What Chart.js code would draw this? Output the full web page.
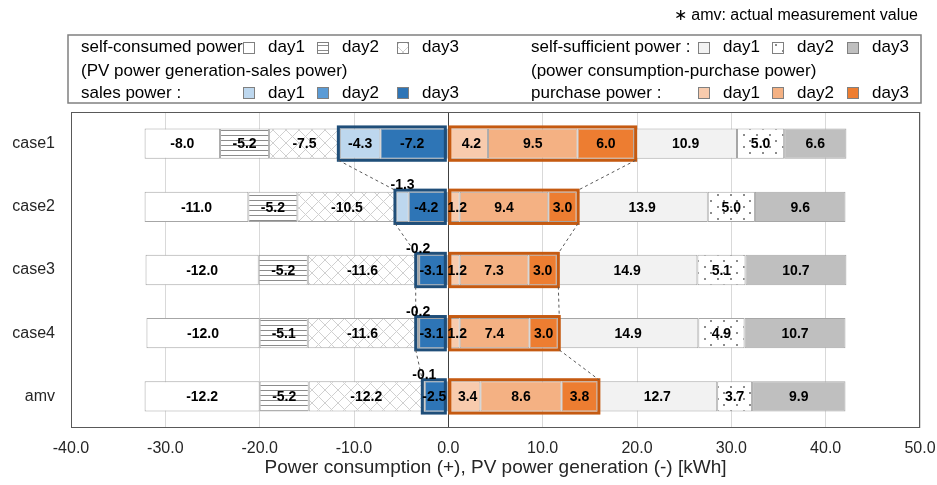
<!DOCTYPE html>
<html>
<head>
<meta charset="utf-8">
<script src="https://cdn.jsdelivr.net/npm/chart.js@4.4.1/dist/chart.umd.min.js"></script>
<style>
  html, body { margin: 0; padding: 0; background: #fff; }
</style>
</head>
<body>
<canvas id="energyChart" width="937" height="485"></canvas>
<script>
// categories
const cases = ['case1', 'case2', 'case3', 'case4', 'amv'];

// self-consumed power (PV power generation - sales power), negative side
const selfConsumedDay1 = [-8.0, -11.0, -12.0, -12.0, -12.2];
const selfConsumedDay2 = [-5.2, -5.2, -5.2, -5.1, -5.2];
const selfConsumedDay3 = [-7.5, -10.5, -11.6, -11.6, -12.2];

// sales power
const salesDay1 = [-4.3, -1.3, -0.2, -0.2, -0.1];
const salesDay2 = [0, 0, 0, 0, 0];
const salesDay3 = [-7.2, -4.2, -3.1, -3.1, -2.5];

// purchase power
const purchaseDay1 = [4.2, 1.2, 1.2, 1.2, 3.4];
const purchaseDay2 = [9.5, 9.4, 7.3, 7.4, 8.6];
const purchaseDay3 = [6.0, 3.0, 3.0, 3.0, 3.8];

// self-sufficient power (power consumption - purchase power)
const selfSufficientDay1 = [10.9, 13.9, 14.9, 14.9, 12.7];
const selfSufficientDay2 = [5.0, 5.0, 5.1, 4.9, 3.7];
const selfSufficientDay3 = [6.6, 9.6, 10.7, 10.7, 9.9];

// x axis
const xMin = -40;
const xMax = 50;
const xStep = 10;

const FONT = "'Liberation Sans', Arial, sans-serif";

// small canvas tiles used as fill patterns
function tile(w, h, paint) {
    const c = document.createElement('canvas');
    c.width = w;
    c.height = h;
    const g = c.getContext('2d');
    g.fillStyle = '#ffffff';
    g.fillRect(0, 0, w, h);
    paint(g);
    return g.createPattern(c, 'repeat');
}

const hLines = tile(4, 5, g => {
    g.fillStyle = '#8c8c8c';
    g.fillRect(0, 0, 4, 1);
});
const crossHatch = tile(13, 13, g => {
    g.strokeStyle = '#d0d0d0';
    g.lineWidth = 1;
    g.beginPath();
    g.moveTo(0, 0); g.lineTo(13, 13);
    g.moveTo(13, 0); g.lineTo(0, 13);
    g.stroke();
});
const dots = tile(13, 12, g => {
    g.fillStyle = '#8c8c8c';
    g.fillRect(2, 2, 2, 2);
    g.fillRect(8, 8, 2, 2);
});

const colors = {
    scDay1: '#ffffff', scDay2: hLines, scDay3: crossHatch,
    saDay1: '#bdd7ee', saDay2: '#5b9bd5', saDay3: '#2e75b6',
    ssDay1: '#f2f2f2', ssDay2: dots, ssDay3: '#bfbfbf',
    puDay1: '#f8cbad', puDay2: '#f4b183', puDay3: '#ed7d31'
};

function dataset(label, data, bg, labelAbove) {
    return {
        label: label,
        data: data,
        backgroundColor: bg,
        borderColor: '#a6a6a6',
        borderWidth: 1,
        borderSkipped: false,
        stack: 'all',
        labelAbove: !!labelAbove
    };
}

// first dataset of each sign sits next to zero
const datasets = [
    dataset('sales day3', salesDay3, colors.saDay3),
    dataset('sales day2', salesDay2, colors.saDay2),
    dataset('sales day1', salesDay1, colors.saDay1, true),
    dataset('self-consumed day3', selfConsumedDay3, colors.scDay3),
    dataset('self-consumed day2', selfConsumedDay2, colors.scDay2),
    dataset('self-consumed day1', selfConsumedDay1, colors.scDay1),
    dataset('purchase day1', purchaseDay1, colors.puDay1),
    dataset('purchase day2', purchaseDay2, colors.puDay2),
    dataset('purchase day3', purchaseDay3, colors.puDay3),
    dataset('self-sufficient day1', selfSufficientDay1, colors.ssDay1),
    dataset('self-sufficient day2', selfSufficientDay2, colors.ssDay2),
    dataset('self-sufficient day3', selfSufficientDay3, colors.ssDay3)
];

// frame, thick boxes round sales / purchase groups, dashed series lines
const groupBoxes = {
    id: 'groupBoxes',
    afterDatasetsDraw(chart) {
        const { ctx, chartArea, scales: { x } } = chart;
        const bars = chart.getDatasetMeta(0).data;
        const zero = x.getPixelForValue(0);
        const salesTot = cases.map((_, i) => salesDay1[i] + salesDay2[i] + salesDay3[i]);
        const purchTot = cases.map((_, i) => purchaseDay1[i] + purchaseDay2[i] + purchaseDay3[i]);

        ctx.save();
        ctx.strokeStyle = '#595959';
        ctx.lineWidth = 1;
        ctx.strokeRect(chartArea.left + 0.5, chartArea.top + 0.5,
            chartArea.right - chartArea.left - 1, chartArea.bottom - chartArea.top - 1);

        const rows = bars.map(b => ({ top: b.y - b.height / 2, bottom: b.y + b.height / 2 }));
        ctx.lineWidth = 3;
        rows.forEach((r, i) => {
            const sx = x.getPixelForValue(salesTot[i]) - 1.5;
            ctx.strokeStyle = '#1f4e79';
            ctx.strokeRect(sx, r.top - 1.5, (zero - 3) - sx, r.bottom - r.top + 3);
            const px = x.getPixelForValue(purchTot[i]) + 1.5;
            ctx.strokeStyle = '#c55a11';
            ctx.strokeRect(zero + 1.5, r.top - 1.5, px - (zero + 1.5), r.bottom - r.top + 3);
        });

        ctx.setLineDash([3, 3]);
        ctx.lineWidth = 1;
        ctx.strokeStyle = '#595959';
        for (let i = 0; i < rows.length - 1; i++) {
            ctx.beginPath();
            ctx.moveTo(x.getPixelForValue(salesTot[i]) - 1.5, rows[i].bottom + 1.5);
            ctx.lineTo(x.getPixelForValue(salesTot[i + 1]) - 1.5, rows[i + 1].top - 1.5);
            ctx.moveTo(x.getPixelForValue(purchTot[i]) + 1.5, rows[i].bottom + 1.5);
            ctx.lineTo(x.getPixelForValue(purchTot[i + 1]) + 1.5, rows[i + 1].top - 1.5);
            ctx.stroke();
        }
        ctx.restore();
    }
};

// value labels on the segments
const valueLabels = {
    id: 'valueLabels',
    afterDatasetsDraw(chart) {
        const ctx = chart.ctx;
        const zero = chart.scales.x.getPixelForValue(0);
        ctx.save();
        ctx.font = 'bold 14px ' + FONT;
        ctx.fillStyle = '#000000';
        ctx.textAlign = 'center';
        chart.data.datasets.forEach((ds, di) => {
            chart.getDatasetMeta(di).data.forEach((bar, i) => {
                const v = ds.data[i];
                if (!v) return;
                let cx = (bar.x + bar.base) / 2;
                if (ds.labelAbove && Math.abs(v) < 2) {
                    ctx.textBaseline = 'bottom';
                    ctx.fillText(v.toFixed(1), cx, bar.y - bar.height / 2 + 1);
                } else {
                    // keep the labels either side of zero apart
                    if (Math.abs(bar.base - zero) < 1) cx += v < 0 ? -2 : 3;
                    ctx.textBaseline = 'middle';
                    ctx.fillText(v.toFixed(1), cx, bar.y + 1);
                }
            });
        });
        ctx.restore();
    }
};

// legend box and the note at the top
const legendBox = {
    id: 'legendBox',
    afterDraw(chart) {
        const ctx = chart.ctx;
        ctx.save();
        ctx.fillStyle = '#000000';
        ctx.font = '16px ' + FONT;
        ctx.textAlign = 'right';
        ctx.textBaseline = 'middle';
        ctx.fillText('\u2217 amv: actual measurement value', 918, 16);

        ctx.strokeStyle = '#808080';
        ctx.lineWidth = 1.5;
        ctx.strokeRect(68, 35, 853, 68);

        ctx.font = '17px ' + FONT;
        ctx.textAlign = 'left';
        const rowY = [47, 71, 93];
        const iconY = [48, 93];

        function icon(x, y, fill) {
            ctx.fillStyle = fill;
            ctx.fillRect(x, y - 6, 12, 12);
            ctx.strokeStyle = '#808080';
            ctx.lineWidth = 1;
            ctx.strokeRect(x + 0.5, y - 5.5, 11, 11);
            ctx.fillStyle = '#000000';
        }
        function group(x0, iconX, title, sub, bottomTitle, topFills, bottomFills) {
            ctx.fillText(title, x0, rowY[0]);
            ctx.fillText(sub, x0, rowY[1]);
            ctx.fillText(bottomTitle, x0, rowY[2]);
            iconX.forEach((ix, k) => {
                icon(ix, iconY[0], topFills[k]);
                ctx.fillText('day' + (k + 1), ix + 25, rowY[0]);
                icon(ix, iconY[1], bottomFills[k]);
                ctx.fillText('day' + (k + 1), ix + 25, rowY[2]);
            });
        }
        group(81, [243, 317, 397], 'self-consumed power', '(PV power generation-sales power)', 'sales power :',
            [colors.scDay1, colors.scDay2, colors.scDay3], [colors.saDay1, colors.saDay2, colors.saDay3]);
        group(531, [698, 772, 847], 'self-sufficient power :', '(power consumption-purchase power)', 'purchase power :',
            [colors.ssDay1, colors.ssDay2, colors.ssDay3], [colors.puDay1, colors.puDay2, colors.puDay3]);
        ctx.restore();
    }
};

const ctx = document.getElementById('energyChart').getContext('2d');
new Chart(ctx, {
    type: 'bar',
    data: { labels: cases, datasets: datasets },
    plugins: [groupBoxes, valueLabels, legendBox],
    options: {
        indexAxis: 'y',
        responsive: false,
        animation: false,
        layout: { padding: { top: 112, right: 17, left: 0, bottom: 0 } },
        datasets: { bar: { categoryPercentage: 1, barPercentage: 0.48 } },
        plugins: {
            legend: { display: false },
            tooltip: { enabled: false }
        },
        scales: {
            x: {
                stacked: true,
                min: xMin,
                max: xMax,
                afterFit(scale) {
                    scale.height = 57;
                    scale.paddingLeft = 0;
                    scale.paddingRight = 0;
                },
                border: { display: false },
                grid: {
                    drawTicks: false,
                    color: c => c.tick && c.tick.value === 0 ? '#404040' : '#d9d9d9'
                },
                ticks: {
                    stepSize: xStep,
                    padding: 11,
                    color: '#262626',
                    font: { family: FONT, size: 16 },
                    callback: v => Number(v).toFixed(1)
                },
                title: {
                    display: true,
                    text: 'Power consumption (+), PV power generation (-) [kWh]',
                    color: '#262626',
                    font: { family: FONT, size: 19 },
                    padding: { top: 0, bottom: 6 }
                }
            },
            y: {
                stacked: true,
                afterFit(scale) { scale.width = 71; },
                border: { display: false },
                grid: { display: false, drawTicks: false },
                ticks: {
                    padding: 16,
                    color: '#262626',
                    font: { family: FONT, size: 16 }
                }
            }
        }
    }
});
</script>
</body>
</html>
